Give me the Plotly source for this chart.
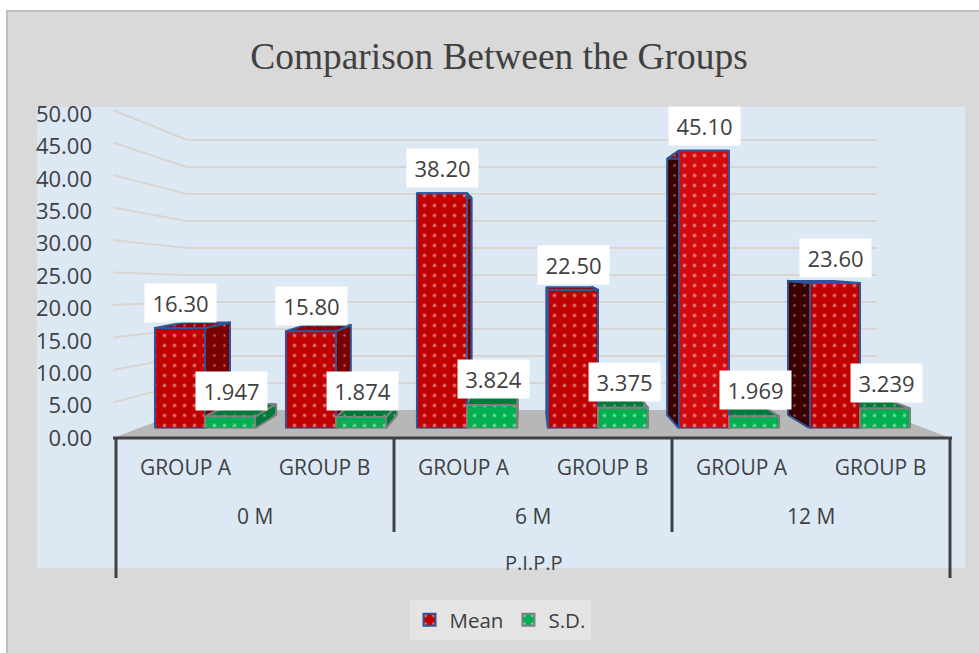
import plotly.graph_objects as go

W, H = 979, 653
TITLE = "Comparison Between the Groups"
groups = ["GROUP A", "GROUP B"] * 3
periods = ["0 M", "6 M", "12 M"]
axis_title = "P.I.P.P"
mean = [16.30, 15.80, 38.20, 22.50, 45.10, 23.60]
sd = [1.947, 1.874, 3.824, 3.375, 1.969, 3.239]
y_ticks = [0, 5, 10, 15, 20, 25, 30, 35, 40, 45, 50]

TXT = "#404040"
FONT = "Open Sans"
RED, RED_SIDE, RED_DARK = "#c00000", "#7a0000", "#3a0000"
RED_BARS = [RED, RED, RED, RED, "#d20a0e", RED]
GREEN, GREEN_SIDE = "#00b050", "#007a3a"
BLUE_EDGE, GRAY_EDGE = "#2f5597", "#7f7f7f"


def px(x):
    return x / W


def py(y):
    return 1 - y / H


# perspective of the 3-D columns, in axis units of the column axes
DEPTH = 0.9223
VX, VY = 2.458, 28.2
BAR_W = 0.382


def back(x, y):
    return VX + (x - VX) * DEPTH, VY + (y - VY) * DEPTH


def poly(points, bg, edge):
    xs = [p[0] for p in points] + [points[0][0]]
    ys = [p[1] for p in points] + [points[0][1]]
    return go.Scatter(
        x=xs, y=ys, xaxis="x3", yaxis="y3", mode="lines", fill="toself",
        fillcolor=bg, line=dict(color=edge, width=2), showlegend=False,
        hoverinfo="skip",
        fillpattern=dict(shape=".", bgcolor=bg, fgcolor="#f4d0d0", size=10, solidity=0.05),
    )


def faces(i, v, offset, top_color, side_color, far_side_color, edge):
    xl, xr = i + offset - BAR_W / 2, i + offset + BAR_W / 2
    out = []
    if xr < VX + 0.6:
        bx0, by0 = back(xr, 0)
        bx1, by1 = back(xr, v)
        out.append(poly([(xr, 0), (bx0, by0), (bx1, by1), (xr, v)], side_color, edge))
    if xl > VX:
        bx0, by0 = back(xl, 0)
        bx1, by1 = back(xl, v)
        out.append(poly([(xl, 0), (bx0, by0), (bx1, by1), (xl, v)], far_side_color, edge))
    a, b = back(xl, v), back(xr, v)
    out.append(poly([(xl, v), (xr, v), b, a], top_color, edge))
    return out


fig = go.Figure()

# base axes: value labels and category labels
fig.add_trace(go.Scatter(x=[0, 5], y=[0, 50], xaxis="x", yaxis="y", mode="markers",
                         marker=dict(opacity=0), showlegend=False, hoverinfo="skip"))
# back wall: its own axes carry the gridlines
fig.add_trace(go.Scatter(x=[0, 1], y=[0, 50], xaxis="x2", yaxis="y2", mode="markers",
                         marker=dict(opacity=0), showlegend=False, hoverinfo="skip"))

for i, v in enumerate(mean):
    for t in faces(i, v, -BAR_W / 2, "#8f0000", RED_SIDE, RED_DARK, BLUE_EDGE):
        fig.add_trace(t)
for i, v in enumerate(sd):
    for t in faces(i, v, BAR_W / 2, GREEN_SIDE, GREEN_SIDE, GREEN_SIDE, GRAY_EDGE):
        fig.add_trace(t)

idx = list(range(6))
fig.add_trace(go.Bar(
    name="Mean", x=idx, y=mean, xaxis="x4", yaxis="y4", width=BAR_W,
    marker=dict(color=RED_BARS, line=dict(color=BLUE_EDGE, width=2),
                pattern=dict(shape=".", bgcolor=RED_BARS, fgcolor="white", size=10, solidity=0.1)),
))
fig.add_trace(go.Bar(
    name="S.D.", x=idx, y=sd, xaxis="x4", yaxis="y4", width=BAR_W,
    marker=dict(color=GREEN, line=dict(color=GRAY_EDGE, width=2),
                pattern=dict(shape=".", bgcolor=GREEN, fgcolor="white", size=10, solidity=0.1)),
))

shapes = [
    # chart area, plot area
    dict(type="rect", xref="paper", yref="paper", x0=px(7), x1=px(990), y0=py(11), y1=py(660),
         fillcolor="#d9d9d9", line=dict(color="#bfbfbf", width=2), layer="below"),
    dict(type="rect", xref="paper", yref="paper", x0=px(37), x1=px(965), y0=py(107), y1=py(568),
         fillcolor="#dce9f5", line=dict(width=0), layer="below"),
]
# side-wall gridlines
for t in y_ticks[1:]:
    shapes.append(dict(type="line", xref="paper", yref="paper", layer="below",
                       x0=px(113), y0=py(435 - t * 6.5), x1=px(187), y1=py(410 - t * 5.4),
                       line=dict(color="#d9d6d2", width=2)))
# floor
shapes.append(dict(type="path", xref="paper", yref="paper", layer="below",
                   path=f"M {px(113)} {py(438)} L {px(187)} {py(410)} L {px(877)} {py(410)} L {px(950)} {py(438)} Z",
                   fillcolor="#b7b7b7", line=dict(width=0)))
# category dividers
for x, bottom in [(116, 578), (394, 532), (672, 532), (950, 578)]:
    shapes.append(dict(type="line", xref="paper", yref="paper", x0=px(x), x1=px(x), y0=py(438), y1=py(bottom),
                       line=dict(color=TXT, width=3)))
shapes.append(dict(type="line", xref="paper", yref="paper", x0=px(113), x1=px(952), y0=py(438), y1=py(438),
                   line=dict(color=TXT, width=3)))

annotations = []
for i, v in enumerate(mean):
    annotations.append(dict(
        x=i - BAR_W / 2, y=v, xref="x4", yref="y4", text=f"{v:.2f}", showarrow=False,
        yanchor="middle", xanchor="center", yshift=25, xshift=1, width=69, height=36,
        bgcolor="white", font=dict(family=FONT, size=22, color=TXT)))
for i, v in enumerate(sd):
    annotations.append(dict(
        x=i + BAR_W / 2, y=v, xref="x4", yref="y4", text=f"{v:.3f}", showarrow=False,
        yanchor="middle", xanchor="center", yshift=26, xshift=1, width=69, height=36,
        bgcolor="white", font=dict(family=FONT, size=22, color=TXT)))
for k, name in enumerate(periods):
    annotations.append(dict(x=0.5 + 2 * k, y=py(516), xref="x", yref="paper", text=name, yanchor="middle",
                            showarrow=False, font=dict(family=FONT, size=21, color=TXT)))
annotations.append(dict(x=2.5, y=py(562), xref="x", yref="paper", text=axis_title, yanchor="middle",
                        showarrow=False, font=dict(family=FONT, size=20, color=TXT)))

hidden = dict(visible=False)
fig.update_layout(
    width=W, height=H, autosize=False,
    margin=dict(l=0, r=0, t=0, b=0, autoexpand=False),
    paper_bgcolor="white", plot_bgcolor="rgba(0,0,0,0)",
    title=dict(text=TITLE, x=499 / W, xanchor="center", y=py(56), yanchor="middle",
               font=dict(family="Liberation Serif", size=37.4, color=TXT)),
    barmode="group", bargap=1 - 2 * BAR_W, bargroupgap=0,
    shapes=shapes, annotations=annotations,
    legend=dict(orientation="h", x=px(500), xanchor="center", y=py(620), yanchor="middle",
                bgcolor="#e4e4e4", font=dict(family=FONT, size=20.5, color=TXT),
                itemwidth=30, traceorder="normal"),
    xaxis=dict(domain=[px(116), px(950)], range=[-0.5, 5.5], tickvals=idx, ticktext=groups,
               anchor="y", showgrid=False, zeroline=False, showline=False,
               ticks="", ticklabelstandoff=15, tickfont=dict(family=FONT, size=21, color=TXT)),
    yaxis=dict(domain=[py(438), py(114)], range=[0, 50], tickvals=y_ticks, tickformat=".2f",
               anchor="x", showgrid=False, zeroline=False, showline=False, ticks="",
               ticklabelstandoff=23, tickfont=dict(family=FONT, size=22, color=TXT)),
    xaxis2=dict(domain=[px(187), px(877)], range=[0, 1], anchor="y2", visible=False),
    yaxis2=dict(domain=[py(410), py(137.3)], range=[0, 50.5], anchor="x2", tickvals=y_ticks, showgrid=True,
                gridcolor="#d9d6d2", gridwidth=2, zeroline=False, showline=False, showticklabels=False, ticks=""),
    xaxis3=dict(domain=[px(139.5), px(925.5)], range=[-0.5, 5.5], anchor="y3", **hidden),
    yaxis3=dict(domain=[py(428.5), py(120.5)], range=[0, 50], anchor="x3", **hidden),
    xaxis4=dict(domain=[px(139.5), px(925.5)], range=[-0.5, 5.5], anchor="y4", **hidden),
    yaxis4=dict(domain=[py(428.5), py(120.5)], range=[0, 50], anchor="x4", **hidden),
)

fig.write_html("out.html", config=dict(displayModeBar=False),
               post_script="document.body.style.margin='0';")
